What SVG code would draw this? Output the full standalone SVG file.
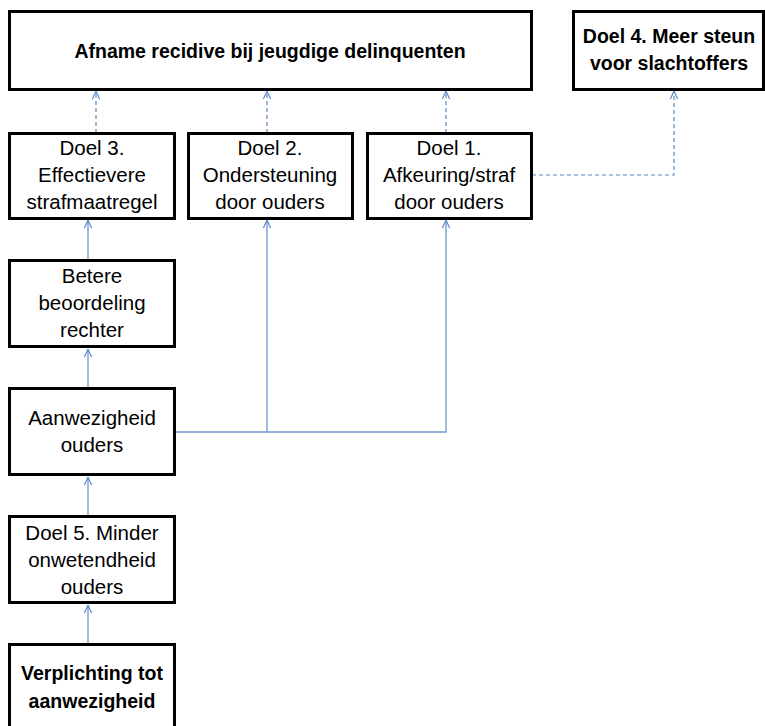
<svg xmlns="http://www.w3.org/2000/svg" width="765" height="726" viewBox="0 0 765 726">
<defs>
<marker id="arr" viewBox="0 0 10 10" refX="10" refY="5" markerWidth="9" markerHeight="9" markerUnits="userSpaceOnUse" orient="auto">
<path d="M1,1 L10,5 L1,9" fill="none" stroke="#5b87c5" stroke-width="1.3"/>
</marker>
</defs>
<style>
.box{fill:#fff;stroke:#000;stroke-width:3}
.t{font-family:"Liberation Sans",Arial,sans-serif;font-size:20.5px;fill:#000;text-anchor:middle}
.b{font-weight:bold;font-size:19.5px}
.sol{fill:none;stroke:#6f98d0;stroke-width:1.3}
.dash{fill:none;stroke:#5b87c5;stroke-width:1.2;stroke-dasharray:4,3}
</style>
<rect width="765" height="726" fill="#fff"/>
<g id="connectors">
<path class="dash" d="M96,140 V91" marker-end="url(#arr)"/>
<path class="dash" d="M267,140 V91" marker-end="url(#arr)"/>
<path class="dash" d="M446,140 V91" marker-end="url(#arr)"/>
<path class="dash" d="M532,175 H674 V91" marker-end="url(#arr)"/>
<path class="sol" d="M88,268 V220" marker-end="url(#arr)"/>
<path class="sol" d="M88,396 V349" marker-end="url(#arr)"/>
<path class="sol" d="M88,524 V477" marker-end="url(#arr)"/>
<path class="sol" d="M88,652 V605" marker-end="url(#arr)"/>
<path class="sol" d="M175,432 H446 V220" marker-end="url(#arr)"/>
<path class="sol" d="M267,432 V220" marker-end="url(#arr)"/>
</g>
<g id="n-top">
<rect class="box" x="9.5" y="11.5" width="522" height="78"/>
<text class="t b" x="270" y="58">Afname recidive bij jeugdige delinquenten</text>
</g>
<g id="n-doel4">
<rect class="box" x="573.5" y="11.5" width="190" height="78"/>
<text class="t b" x="669" y="43">Doel 4. Meer steun</text>
<text class="t b" x="669" y="70">voor slachtoffers</text>
</g>
<g id="n-doel3">
<rect class="box" x="9.5" y="133.5" width="165" height="85"/>
<text class="t" x="92" y="155">Doel 3.</text>
<text class="t" x="92" y="182">Effectievere</text>
<text class="t" x="92" y="209">strafmaatregel</text>
</g>
<g id="n-doel2">
<rect class="box" x="188.5" y="133.5" width="164" height="85"/>
<text class="t" x="270" y="155">Doel 2.</text>
<text class="t" x="270" y="182">Ondersteuning</text>
<text class="t" x="270" y="209">door ouders</text>
</g>
<g id="n-doel1">
<rect class="box" x="367.5" y="133.5" width="164" height="85"/>
<text class="t" x="449" y="155">Doel 1.</text>
<text class="t" x="449" y="182">Afkeuring/straf</text>
<text class="t" x="449" y="209">door ouders</text>
</g>
<g id="n-betere">
<rect class="box" x="9.5" y="260.5" width="165" height="86"/>
<text class="t" x="92" y="283">Betere</text>
<text class="t" x="92" y="310">beoordeling</text>
<text class="t" x="92" y="337">rechter</text>
</g>
<g id="n-aanwezigheid">
<rect class="box" x="9.5" y="388.5" width="165" height="86"/>
<text class="t" x="92" y="425">Aanwezigheid</text>
<text class="t" x="92" y="452">ouders</text>
</g>
<g id="n-doel5">
<rect class="box" x="9.5" y="516.5" width="165" height="86"/>
<text class="t" x="92" y="540">Doel 5. Minder</text>
<text class="t" x="92" y="567">onwetendheid</text>
<text class="t" x="92" y="594">ouders</text>
</g>
<g id="n-verplichting">
<rect class="box" x="9.5" y="644.5" width="165" height="90"/>
<text class="t b" x="92" y="680">Verplichting tot</text>
<text class="t b" x="92" y="708">aanwezigheid</text>
</g>
</svg>
